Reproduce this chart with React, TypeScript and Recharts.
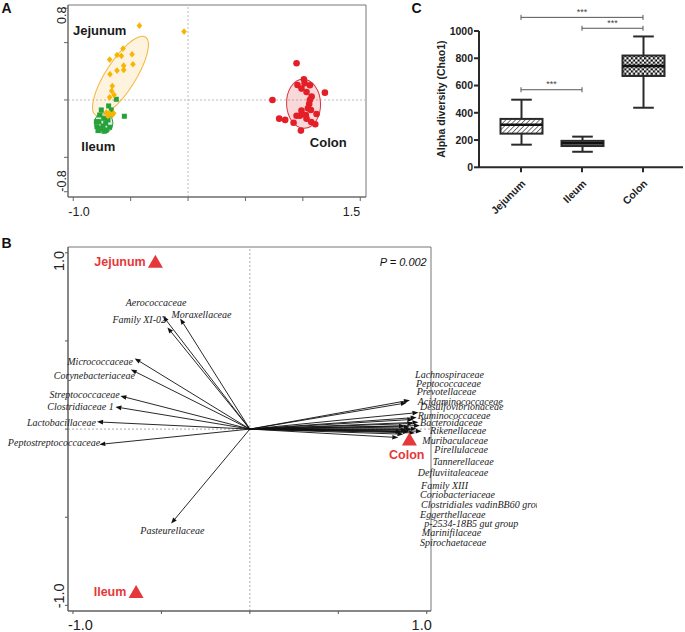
import React from "react";
import {
  ScatterChart,
  Scatter,
  ComposedChart,
  Bar,
  XAxis,
  YAxis,
  ReferenceLine,
  ReferenceDot,
  ReferenceArea,
} from "recharts";

const SANS = "Arial, 'Liberation Sans', Helvetica, sans-serif";
const SERIF = "'Liberation Serif', 'Times New Roman', serif";
const RED = "#e5383b";

// ---------- A: PCoA scores ----------
const jejunumPoints = [
  { x: -0.424, y: 0.648 }, { x: -0.035, y: 0.596 }, { x: -0.567, y: 0.448 },
  { x: -0.619, y: 0.392 }, { x: -0.581, y: 0.384 }, { x: -0.488, y: 0.398 },
  { x: -0.683, y: 0.352 }, { x: -0.48, y: 0.311 }, { x: -0.561, y: 0.299 },
  { x: -0.561, y: 0.262 }, { x: -0.619, y: 0.256 }, { x: -0.68, y: 0.224 },
  { x: -0.66, y: 0.122 }, { x: -0.666, y: 0.078 }, { x: -0.645, y: 0.044 },
  { x: -0.683, y: 0.023 }, { x: -0.683, y: -0.116 }, { x: -0.712, y: -0.11 },
  { x: -0.66, y: -0.131 }, { x: -0.698, y: -0.14 }, { x: -0.648, y: -0.116 },
];

const ileumPoints = [
  { x: -0.625, y: 0.006 }, { x: -0.555, y: -0.142 }, { x: -0.692, y: -0.052 },
  { x: -0.756, y: -0.087 }, { x: -0.77, y: -0.131 }, { x: -0.735, y: -0.16 },
  { x: -0.776, y: -0.189 }, { x: -0.718, y: -0.203 }, { x: -0.794, y: -0.233 },
  { x: -0.756, y: -0.256 }, { x: -0.712, y: -0.262 }, { x: -0.785, y: -0.267 },
  { x: -0.683, y: -0.238 }, { x: -0.741, y: -0.227 }, { x: -0.698, y: -0.174 },
  { x: -0.77, y: -0.247 }, { x: -0.727, y: -0.27 }, { x: -0.799, y: -0.189 },
  { x: -0.669, y: -0.087 },
];

const colonPoints = [
  { x: 0.945, y: 0.32 }, { x: 1.009, y: 0.18 }, { x: 0.953, y: 0.131 },
  { x: 0.988, y: 0.099 }, { x: 1.061, y: 0.128 }, { x: 1.032, y: 0.07 },
  { x: 1.192, y: 0.064 }, { x: 0.735, y: 0.0 }, { x: 1.076, y: 0.029 },
  { x: 1.061, y: 0.0 }, { x: 1.055, y: -0.035 }, { x: 0.988, y: -0.093 },
  { x: 1.07, y: -0.087 }, { x: 0.945, y: -0.137 }, { x: 0.974, y: -0.137 },
  { x: 1.026, y: -0.131 }, { x: 1.119, y: -0.122 }, { x: 1.032, y: -0.163 },
  { x: 0.794, y: -0.163 }, { x: 0.846, y: -0.174 }, { x: 0.919, y: -0.198 },
  { x: 1.073, y: -0.192 }, { x: 1.108, y: -0.212 }, { x: 0.983, y: -0.267 },
  { x: 1.015, y: 0.145 }, { x: 1.044, y: -0.073 },
];

// confidence ellipses: centre, semi axes (data units), angle (deg)
const pcoaEllipses = [
  { group: "Jejunum", x: -0.589, y: 0.208, a: 0.404, b: 0.13, angle: 57.4 },
  { group: "Ileum", x: -0.735, y: -0.201, a: 0.09, b: 0.08, angle: 90 },
  { group: "Colon", x: 1.006, y: -0.033, a: 0.214, b: 0.148, angle: 92 },
];

const pcoaLabels = [
  { text: "Jejunum", x: -1.003, y: 0.604 },
  { text: "Ileum", x: -0.93, y: -0.407 },
  { text: "Colon", x: 1.061, y: -0.369 },
];

const pcoaXDomain = [-1.046, 1.55];
const pcoaYDomain = [-0.846, 0.828];
const pcoaXTicks = [-1, -0.5, 0, 0.5, 1, 1.5];
const pcoaYTicks = [-0.8, -0.5, 0, 0.5, 0.8];

// ---------- C: Chao1 ----------
const sites = ["Jejunum", "Ileum", "Colon"];
const chaoMin = [166, 114, 437];
const chaoQ1 = [247, 156, 670];
const chaoMedian = [312, 176, 743];
const chaoQ3 = [355, 194, 820];
const chaoMax = [496, 225, 960];
const chaoTicks = [0, 200, 400, 600, 800, 1000];

const sigPairs = [
  ["Jejunum", "Colon"],
  ["Ileum", "Colon"],
  ["Jejunum", "Ileum"],
];
const sigHeights = [1100, 1020, 569];
const sigMarks = ["***", "***", "***"];

// ---------- B: RDA biplot ----------
const leftTaxa = [
  { name: "Aerococcaceae", x: -0.491, y: 0.641, lx: -0.702, ly: 0.716 },
  { name: "Family XI-02", x: -0.466, y: 0.577, lx: -0.777, ly: 0.62 },
  { name: "Moraxellaceae", x: -0.394, y: 0.628, lx: -0.443, ly: 0.652 },
  { name: "Micrococcaceae", x: -0.651, y: 0.401, lx: -1.032, ly: 0.381 },
  { name: "Corynebacteriaceae", x: -0.673, y: 0.338, lx: -1.108, ly: 0.302 },
  { name: "Streptococcaceae", x: -0.732, y: 0.188, lx: -1.132, ly: 0.196 },
  { name: "Clostridiaceae 1", x: -0.76, y: 0.126, lx: -1.145, ly: 0.126 },
  { name: "Lactobacillaceae", x: -0.864, y: 0.041, lx: -1.26, ly: 0.035 },
  { name: "Peptostreptococcaceae", x: -0.851, y: -0.087, lx: -1.368, ly: -0.078 },
  { name: "Pasteurellaceae", x: -0.445, y: -0.536, lx: -0.619, ly: -0.576 },
];

const rightArrowX = [
  0.905, 0.887, 0.953, 0.943, 0.953, 0.924, 0.962, 0.905, 0.972, 0.934,
  0.887, 0.868, 0.839, 0.9, 0.943, 0.924, 0.915, 0.877, 0.858,
];
const rightArrowY = [
  0.164, 0.149, 0.094, 0.066, 0.039, 0.032, 0.02, 0.012, -0.012, -0.022,
  -0.006, -0.029, -0.048, -0.015, 0.002, 0.055, -0.002, 0.018, -0.015,
];
const rightTaxa = [
  { name: "Lachnospiraceae", lx: 0.934, ly: 0.31 },
  { name: "Peptococcaceae", lx: 0.939, ly: 0.257 },
  { name: "Prevotellaceae", lx: 0.943, ly: 0.211 },
  { name: "Acidaminococcaceae", lx: 0.949, ly: 0.158 },
  { name: "Desulfovibrionaceae", lx: 0.962, ly: 0.126 },
  { name: "Ruminococcaceae", lx: 0.949, ly: 0.077 },
  { name: "Bacteroidaceae", lx: 0.962, ly: 0.035 },
  { name: "Rikenellaceae", lx: 1.019, ly: -0.008 },
  { name: "Muribaculaceae", lx: 0.975, ly: -0.065 },
  { name: "Pirellulaceae", lx: 1.043, ly: -0.114 },
  { name: "Tannerellaceae", lx: 1.034, ly: -0.184 },
  { name: "Defluviitaleaceae", lx: 0.949, ly: -0.249 },
  { name: "Family XIII", lx: 0.968, ly: -0.318 },
  { name: "Coriobacteriaceae", lx: 0.962, ly: -0.371 },
  { name: "Clostridiales vadinBB60 group", lx: 0.968, ly: -0.426 },
  { name: "Eggerthellaceae", lx: 0.962, ly: -0.487 },
  { name: "p-2534-18B5 gut group", lx: 0.986, ly: -0.538 },
  { name: "Marinifilaceae", lx: 0.972, ly: -0.589 },
  { name: "Spirochaetaceae", lx: 0.962, ly: -0.642 },
];

const siteCentroids = [
  { name: "Jejunum", x: -0.534, y: 0.949, lx: -0.589, ly: 0.949, anchor: "end" },
  { name: "Ileum", x: -0.643, y: -0.924, lx: -0.698, ly: -0.926, anchor: "end" },
  { name: "Colon", x: 0.902, y: -0.059, lx: 0.787, ly: -0.148, anchor: "start" },
];

const rdaXDomain = [-1.028, 1.024];
const rdaYDomain = [-1.032, 1.033];
const rdaTicks = [-1, -0.5, 0, 0.5, 1];
const rdaP = "P = 0.002";

// ---------- helpers ----------
// A plot area: 298 x 192 px
const PX_A = 298 / (pcoaXDomain[1] - pcoaXDomain[0]);

const ellipseStyle: Record<string, { fill: string; stroke: string }> = {
  Jejunum: { fill: "rgba(250,190,70,0.18)", stroke: "#f4b53a" },
  Ileum: { fill: "rgba(60,170,80,0.18)", stroke: "#2e9e46" },
  Colon: { fill: "rgba(226,60,70,0.2)", stroke: "#d9343b" },
};

const EllipseShape = (props: any) => {
  const { cx, cy, payload } = props;
  const st = ellipseStyle[payload.group];
  return (
    <ellipse
      cx={cx}
      cy={cy}
      rx={payload.a * PX_A}
      ry={payload.b * PX_A}
      transform={`rotate(${-payload.angle} ${cx} ${cy})`}
      fill={st.fill}
      stroke={st.stroke}
      strokeWidth={1}
    />
  );
};

const Diamond = ({ cx, cy }: any) => (
  <polygon
    points={`${cx},${cy - 3.3} ${cx + 2.8},${cy} ${cx},${cy + 3.3} ${cx - 2.8},${cy}`}
    fill="#f7b500"
  />
);
const Square = ({ cx, cy }: any) => (
  <rect x={cx - 2.5} y={cy - 2.5} width={5} height={5} fill="#27a23b" />
);
const Circle = ({ cx, cy }: any) => <circle cx={cx} cy={cy} r={3.3} fill="#e31e26" />;

const Triangle = ({ cx, cy }: any) => (
  <polygon points={`${cx - 7.5},${cy + 6} ${cx + 7.5},${cy + 6} ${cx},${cy - 7}`} fill={RED} />
);

const Arrow = (props: any) => {
  const { x1, y1, x2, y2 } = props;
  const dx = x2 - x1;
  const dy = y2 - y1;
  const len = Math.hypot(dx, dy) || 1;
  const ux = dx / len;
  const uy = dy / len;
  const hl = 6;
  const hw = 2.3;
  const bx = x2 - ux * hl;
  const by = y2 - uy * hl;
  return (
    <g>
      <line x1={x1} y1={y1} x2={bx} y2={by} stroke="#111" strokeWidth={0.9} />
      <polygon
        points={`${x2},${y2} ${bx - uy * hw},${by + ux * hw} ${bx + uy * hw},${by - ux * hw}`}
        fill="#111"
      />
    </g>
  );
};

const textShape = (text: string, opts: any) => (props: any) => (
  <text
    x={props.cx}
    y={props.cy}
    dominantBaseline="central"
    textAnchor={opts.anchor || "start"}
    fontFamily={opts.family || SANS}
    fontSize={opts.size}
    fontWeight={opts.weight || "normal"}
    fontStyle={opts.italic ? "italic" : "normal"}
    fill={opts.color || "#222"}
  >
    {text}
  </text>
);

// edge labels of A/B (only the extreme ticks are labelled)
const edgeXTick = (first: number, last: number, size: number, dyBase: number, shiftR: number) =>
  (props: any) => {
    const { x, y, payload } = props;
    if (payload.value !== first && payload.value !== last) return <g />;
    const isFirst = payload.value === first;
    return (
      <text
        x={isFirst ? x - 5 : x + shiftR}
        y={y + dyBase}
        textAnchor={isFirst ? "start" : "end"}
        fontFamily={SANS}
        fontSize={size}
        fill="#222"
      >
        {payload.value.toFixed(1)}
      </text>
    );
  };

const edgeYTick = (low: number, high: number, size: number, bx: number, endShift: number, startShift: number) =>
  (props: any) => {
    const { y, payload } = props;
    if (payload.value !== low && payload.value !== high) return <g />;
    const isHigh = payload.value === high;
    const ty = isHigh ? y + endShift : y + startShift;
    return (
      <text
        x={bx}
        y={ty}
        transform={`rotate(-90 ${bx} ${ty})`}
        textAnchor={isHigh ? "end" : "start"}
        fontFamily={SANS}
        fontSize={size}
        fill="#222"
      >
        {payload.value.toFixed(1)}
      </text>
    );
  };

// ---------- C helpers ----------
const boxData = sites.map((name, i) => ({
  name,
  range: [chaoMin[i], chaoMax[i]],
  min: chaoMin[i],
  q1: chaoQ1[i],
  median: chaoMedian[i],
  q3: chaoQ3[i],
  max: chaoMax[i],
}));

const boxFill: Record<string, string> = {
  Jejunum: "url(#pat-hatch)",
  Ileum: "#8e8e8e",
  Colon: "url(#pat-checker)",
};

const BoxShape = (props: any) => {
  const { x, y, width, height, payload } = props;
  const { min, q1, median, q3, max, name } = payload;
  const py = (v: number) => y + (height * (max - v)) / (max - min);
  const cx = x + width / 2;
  const cap = 10.3;
  const st = { stroke: "#2a2a2a", strokeWidth: 2 };
  return (
    <g>
      {name === "Jejunum" && (
        <defs>
          <pattern id="pat-hatch" width={3.4} height={3.4} patternUnits="userSpaceOnUse" patternTransform="rotate(45)">
            <rect width={3.4} height={3.4} fill="#fff" />
            <line x1={0} y1={0} x2={0} y2={3.4} stroke="#4a4a4a" strokeWidth={1.5} />
          </pattern>
        </defs>
      )}
      {name === "Colon" && (
        <defs>
          <pattern id="pat-checker" width={4.4} height={4.4} patternUnits="userSpaceOnUse">
            <rect width={4.4} height={4.4} fill="#fff" />
            <rect width={2.2} height={2.2} fill="#111" />
            <rect x={2.2} y={2.2} width={2.2} height={2.2} fill="#111" />
          </pattern>
        </defs>
      )}
      <line x1={cx} y1={py(max)} x2={cx} y2={py(q3)} {...st} />
      <line x1={cx} y1={py(q1)} x2={cx} y2={py(min)} {...st} />
      <line x1={cx - cap} y1={py(max)} x2={cx + cap} y2={py(max)} {...st} />
      <line x1={cx - cap} y1={py(min)} x2={cx + cap} y2={py(min)} {...st} />
      <rect x={x} y={py(q3)} width={width} height={py(q1) - py(q3)} fill={boxFill[name]} {...st} />
      <line x1={x} y1={py(median)} x2={x + width} y2={py(median)} stroke="#111" strokeWidth={2.5} />
    </g>
  );
};

const SigBar = (mark: string) => (props: any) => {
  const { x1, y1, x2, y2 } = props;
  return (
    <g>
      <line x1={x1} y1={y1} x2={x2} y2={y2} stroke="#555" strokeWidth={1} />
      <line x1={x1} y1={y1 - 2.5} x2={x1} y2={y1 + 2.5} stroke="#555" strokeWidth={1} />
      <line x1={x2} y1={y2 - 2.5} x2={x2} y2={y2 + 2.5} stroke="#555" strokeWidth={1} />
      <text x={(x1 + x2) / 2} y={y1 - 2.5} textAnchor="middle" fontFamily={SANS} fontSize={9} fill="#444">
        {mark}
      </text>
    </g>
  );
};

const CatTick = (props: any) => {
  const { x, y, payload } = props;
  const ax = x + 5;
  const ay = y + 10;
  return (
    <text
      x={ax}
      y={ay}
      transform={`rotate(-45 ${ax} ${ay})`}
      textAnchor="end"
      fontFamily={SANS}
      fontSize={10.5}
      fontWeight="bold"
      fill="#222"
    >
      {payload.value}
    </text>
  );
};

const YTitle = (props: any) => {
  const vb = props.viewBox || { x: 39, y: 31, width: 60, height: 136 };
  const tx = vb.x + 26.5;
  const ty = vb.y + vb.height / 2;
  return (
    <text
      x={tx}
      y={ty}
      transform={`rotate(-90 ${tx} ${ty})`}
      textAnchor="middle"
      fontFamily={SANS}
      fontSize={10.5}
      fontWeight="bold"
      fill="#222"
    >
      Alpha diversity (Chao1)
    </text>
  );
};

function PanelA() {
  return (
    <ScatterChart width={380} height={220} margin={{ top: 5, right: 14, bottom: 3, left: 28 }}>
      <XAxis
        type="number"
        dataKey="x"
        domain={pcoaXDomain}
        ticks={pcoaXTicks}
        height={20}
        tickSize={4}
        axisLine={{ stroke: "#666" }}
        tickLine={{ stroke: "#666" }}
        tick={edgeXTick(-1, 1.5, 12.5, 13, 0)}
        interval={0}
      />
      <YAxis
        type="number"
        dataKey="y"
        domain={pcoaYDomain}
        ticks={pcoaYTicks}
        width={40}
        tickSize={4}
        axisLine={{ stroke: "#666" }}
        tickLine={{ stroke: "#666" }}
        tick={edgeYTick(-0.8, 0.8, 12.5, 66, -1.6, 0)}
        interval={0}
      />
      <ReferenceArea
        x1={pcoaXDomain[0]}
        x2={pcoaXDomain[1]}
        y1={pcoaYDomain[0]}
        y2={pcoaYDomain[1]}
        fill="none"
        stroke="#777"
        ifOverflow="visible"
      />
      <ReferenceLine x={0} stroke="#bbb" strokeDasharray="2 2" />
      <ReferenceLine y={0} stroke="#bbb" strokeDasharray="2 2" />
      <Scatter data={pcoaEllipses} shape={EllipseShape} isAnimationActive={false} />
      <Scatter data={ileumPoints} shape={Square} isAnimationActive={false} />
      <Scatter data={jejunumPoints} shape={Diamond} isAnimationActive={false} />
      <Scatter data={colonPoints} shape={Circle} isAnimationActive={false} />
      {pcoaLabels.map((l) => (
        <ReferenceDot
          key={l.text}
          x={l.x}
          y={l.y}
          r={1}
          ifOverflow="visible"
          shape={textShape(l.text, { size: 13, weight: "bold", color: "#1a1a1a" })}
        />
      ))}
    </ScatterChart>
  );
}

function PanelC() {
  return (
    <ComposedChart width={305} height={220} data={boxData} margin={{ top: 31, right: 2, bottom: 0, left: 39 }}>
      <XAxis
        dataKey="name"
        height={52.7}
        padding={{ left: 11.5, right: 9.5 }}
        tickSize={5}
        axisLine={{ stroke: "#2a2a2a", strokeWidth: 2 }}
        tickLine={{ stroke: "#2a2a2a", strokeWidth: 2 }}
        tick={CatTick}
        interval={0}
      />
      <YAxis
        type="number"
        domain={[0, 1000]}
        ticks={chaoTicks}
        width={60}
        tickSize={5}
        tickMargin={1}
        axisLine={{ stroke: "#2a2a2a", strokeWidth: 2 }}
        tickLine={{ stroke: "#2a2a2a", strokeWidth: 2 }}
        tick={{ fontFamily: SANS, fontSize: 10.5, fontWeight: "bold", fill: "#222" }}
        label={YTitle}
        interval={0}
      />
      <Bar dataKey="range" barSize={42} shape={BoxShape} isAnimationActive={false} />
      {sigPairs.map((p, i) => (
        <ReferenceLine
          key={i}
          segment={[
            { x: p[0], y: sigHeights[i] },
            { x: p[1], y: sigHeights[i] },
          ]}
          ifOverflow="visible"
          shape={SigBar(sigMarks[i])}
        />
      ))}
    </ComposedChart>
  );
}

function PanelB() {
  return (
    <ScatterChart width={537} height={404} margin={{ top: 19, right: 106, bottom: 1, left: 28 }}>
      <XAxis
        type="number"
        dataKey="x"
        domain={rdaXDomain}
        ticks={rdaTicks}
        height={20}
        tickSize={3}
        axisLine={{ stroke: "#555" }}
        tickLine={{ stroke: "#555" }}
        tick={edgeXTick(-1, 1, 14.5, 14, 5)}
        interval={0}
      />
      <YAxis
        type="number"
        dataKey="y"
        domain={rdaYDomain}
        ticks={rdaTicks}
        width={40}
        tickSize={3}
        axisLine={{ stroke: "#555" }}
        tickLine={{ stroke: "#555" }}
        tick={edgeYTick(-1, 1, 14.5, 64, -2, 3)}
        interval={0}
      />
      <ReferenceArea
        x1={rdaXDomain[0]}
        x2={rdaXDomain[1]}
        y1={rdaYDomain[0]}
        y2={rdaYDomain[1]}
        fill="none"
        stroke="#777"
        ifOverflow="visible"
      />
      <ReferenceLine x={0} stroke="#aaa" strokeDasharray="2 2" />
      <ReferenceLine y={0} stroke="#aaa" strokeDasharray="2 2" />
      {leftTaxa.map((t) => (
        <ReferenceLine
          key={"a" + t.name}
          segment={[
            { x: 0, y: 0 },
            { x: t.x, y: t.y },
          ]}
          ifOverflow="visible"
          shape={Arrow}
        />
      ))}
      {rightArrowX.map((ax, i) => (
        <ReferenceLine
          key={"r" + i}
          segment={[
            { x: 0, y: 0 },
            { x: ax, y: rightArrowY[i] },
          ]}
          ifOverflow="visible"
          shape={Arrow}
        />
      ))}
      <Scatter data={siteCentroids} shape={Triangle} isAnimationActive={false} />
      {leftTaxa.map((t) => (
        <ReferenceDot
          key={"l" + t.name}
          x={t.lx}
          y={t.ly}
          r={1}
          ifOverflow="visible"
          shape={textShape(t.name, { size: 10, italic: true, family: SERIF, color: "#222" })}
        />
      ))}
      {rightTaxa.map((t) => (
        <ReferenceDot
          key={"rl" + t.name}
          x={t.lx}
          y={t.ly}
          r={1}
          ifOverflow="visible"
          shape={textShape(t.name, { size: 10, italic: true, family: SERIF, color: "#222" })}
        />
      ))}
      {siteCentroids.map((s) => (
        <ReferenceDot
          key={"s" + s.name}
          x={s.lx}
          y={s.ly}
          r={1}
          ifOverflow="visible"
          shape={textShape(s.name, { size: 12.5, weight: "bold", color: RED, anchor: s.anchor })}
        />
      ))}
      <ReferenceDot
        x={1.0}
        y={0.947}
        r={1}
        ifOverflow="visible"
        shape={textShape(rdaP, { size: 11, italic: true, anchor: "end", color: "#111" })}
      />
    </ScatterChart>
  );
}

export default function App() {
  return (
    <div
      style={{
        position: "absolute",
        left: 0,
        top: 0,
        width: 685,
        height: 632,
        background: "#fff",
        fontFamily: SANS,
        overflow: "hidden",
      }}
    >
      <div style={{ position: "absolute", left: 0, top: 0 }}>
        <PanelA />
      </div>
      <div style={{ position: "absolute", left: 380, top: 0 }}>
        <PanelC />
      </div>
      <div style={{ position: "absolute", left: 0, top: 228, width: 537, height: 404, overflow: "hidden" }}>
        <PanelB />
      </div>
      <svg width={685} height={632} style={{ position: "absolute", left: 0, top: 0, pointerEvents: "none" }}>
        <text x={1.5} y={13} fontFamily={SANS} fontSize={14} fontWeight="bold" fill="#111">A</text>
        <text x={411.5} y={13.3} fontFamily={SANS} fontSize={14} fontWeight="bold" fill="#111">C</text>
        <text x={1.5} y={248.3} fontFamily={SANS} fontSize={14} fontWeight="bold" fill="#111">B</text>
      </svg>
    </div>
  );
}
